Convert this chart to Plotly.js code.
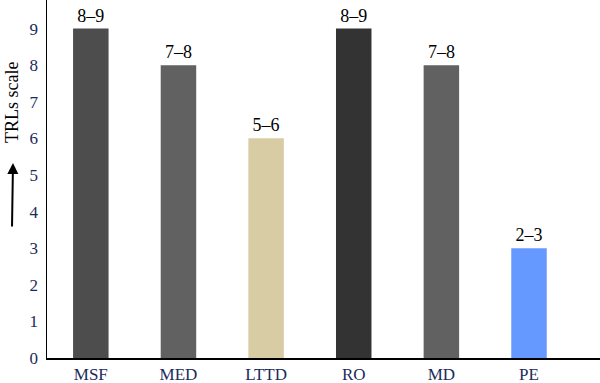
<!DOCTYPE html>
<html><head><meta charset="utf-8">
<script src="https://cdn.plot.ly/plotly-3.0.1.min.js"></script>
<style>html,body{margin:0;padding:0;background:#fff}</style>
</head><body><div id="chart" style="width:600px;height:383px"></div>
<script>
const categories = ["MSF","MED","LTTD","RO","MD","PE"];
const trlValues = [9, 8, 6, 9, 8, 3];
const trlLabels = ["8–9","7–8","5–6","8–9","7–8","2–3"];
const barColors = ["#4d4d4d","#616161","#d8cca5","#333333","#616161","#6699ff"];
const yTicks = [0,1,2,3,4,5,6,7,8,9];

const serif = "Liberation Serif, Times New Roman, serif";
const trace = {
  type: "bar",
  x: categories,
  y: trlValues,
  text: trlLabels,
  textposition: "outside",
  textfont: {family: serif, size: 18, color: "#000"},
  marker: {color: barColors},
  width: 0.405,
  cliponaxis: false,
  hoverinfo: "none"
};
const layout = {
  width: 600, height: 383,
  margin: {l: 47, r: 0, t: 0, b: 25},
  paper_bgcolor: "#fff", plot_bgcolor: "#fff",
  showlegend: false,
  xaxis: {
    type: "category",
    range: [-0.5, 5.81],
    showline: true, linecolor: "#000", linewidth: 1.5,
    ticks: "", showgrid: false, zeroline: false,
    tickfont: {family: serif, size: 17, color: "#1b2a5c"}
  },
  yaxis: {
    range: [0, 9.78],
    tickvals: yTicks,
    showline: true, linecolor: "#000", linewidth: 1.5,
    ticks: "", showgrid: false, zeroline: false,
    ticklabelstandoff: 4,
    tickfont: {family: serif, size: 17, color: "#1b2a5c"}
  },
  annotations: [
    {xref: "paper", yref: "paper", x: -47/553, y: 1 - 103/358, xanchor: "center", yanchor: "middle",
     text: "TRLs scale", textangle: -90, showarrow: false, xshift: 12,
     font: {family: serif, size: 18, color: "#000"}},
    {xref: "paper", yref: "paper", x: -47/553, y: 1 - 163/358, xshift: 12,
     ax: 0, ay: 65, axref: "pixel", ayref: "pixel",
     text: "", showarrow: true, arrowhead: 2, arrowsize: 1.1, arrowwidth: 2, arrowcolor: "#000"}
  ]
};
Plotly.newPlot("chart", [trace], layout, {displayModeBar: false, staticPlot: true});
</script></body></html>
